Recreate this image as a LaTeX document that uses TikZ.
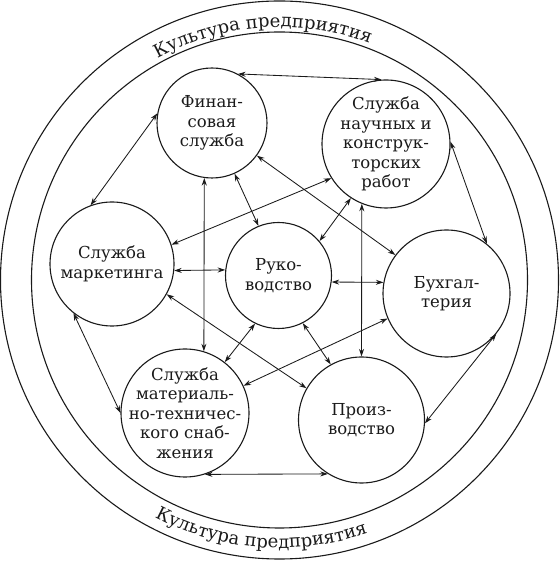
\documentclass[tikz,border=0pt]{standalone}
\usepackage{fontspec}
\setmainfont{DejaVu Serif}
\usetikzlibrary{arrows.meta,decorations.text,calc}
\definecolor{ink}{HTML}{1A1A1A}
\begin{document}
\begin{tikzpicture}[x=1pt,y=1pt,
  unit/.style={circle,draw=ink,line width=1.1pt,inner sep=0pt},
  txt/.style={align=center,font=\fontsize{16.5}{19.5}\selectfont,text=ink,inner sep=0pt},
  link/.style={draw=ink,line width=0.85pt,{Stealth[length=7.5pt,width=5pt]}-{Stealth[length=7.5pt,width=5pt]}},
  ring/.style={draw=ink,line width=1.1pt}]
\useasboundingbox (0,0) rectangle (559,564);
\coordinate (C) at (279.5,284);
\draw[ring] (C) circle[radius=279];
\draw[ring] (C) circle[radius=248];
\path[decorate,decoration={text along path,text align=center,
  text={|\fontsize{18}{20}\selectfont\color{ink}|Культура предприятия}}]
  ($(C)+(132:253)$) arc[start angle=132,end angle=56,radius=253];
\path[decorate,decoration={text along path,text align=center,
  text={|\fontsize{18}{20}\selectfont\color{ink}|Культура предприятия}}]
  ($(C)+(226:268)$) arc[start angle=226,end angle=305.5,radius=268];

\node[unit,minimum size=110,label={[txt,name=finT]center:{Финан-\\совая\\служба}}] (fin) at (212,441) {};
\node[unit,minimum size=128,label={[txt,name=nirT]center:{Служба\\научных и\\конструк-\\торских\\работ}}] (nir) at (386,420) {};
\node[unit,minimum size=124,label={[txt,name=marT]center:{Служба\\маркетинга}}] (mar) at (112,300) {};
\node[unit,minimum size=106,label={[txt,name=rukT]center:{Руко-\\водство}}] (ruk) at (278.5,288.5) {};
\node[unit,minimum size=127,label={[txt,name=buhT]center:{Бухгал-\\терия}}] (buh) at (446.5,270.5) {};
\node[unit,minimum size=128,label={[txt,name=snabT]center:{Служба\\материаль-\\но-техничес-\\кого снаб-\\жения}}] (snab) at (185,151) {};
\node[unit,minimum size=126,label={[txt,name=proT]center:{Произ-\\водство}}] (pro) at (361.5,144) {};

\draw[link] (fin.62) -- (nir.94);
\draw[link] (fin.170) -- (mar.110);
\draw[link] (fin.262) -- (snab.73);
\draw[link] (fin.-66) -- (ruk.112);
\draw[link] (fin.-36) -- (buh.143);
\draw[link] (mar.18) -- (nir.212);
\draw[link] (mar.-6) -- (ruk.174);
\draw[link] (mar.-29) -- (pro.150);
\draw[link] (mar.232) -- (snab.180);
\draw[link] (ruk.244) -- (snab.52);
\draw[link] (ruk.-7) -- (buh.170);
\draw[link] (ruk.40) -- (nir.237);
\draw[link] (nir.248) -- (pro.90);
\draw[link] (ruk.-63) -- (pro.119);
\draw[link] (buh.203) -- (snab.25);
\draw[link] (nir.2) -- (buh.51);
\draw[link] (buh.-39) -- (pro.-3);
\draw[link] (snab.-72) -- (pro.238);
\end{tikzpicture}
\end{document}
